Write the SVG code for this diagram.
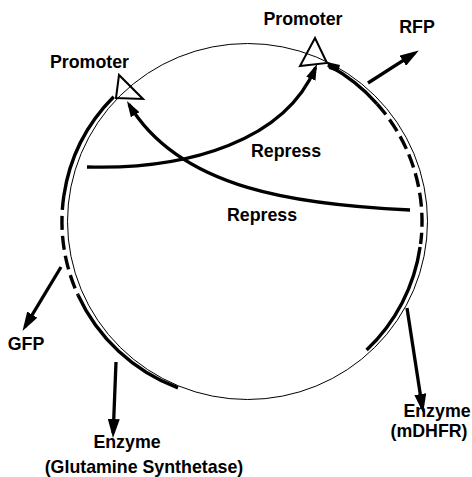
<svg xmlns="http://www.w3.org/2000/svg" width="472" height="477" viewBox="0 0 472 477">
<style>
.lbl{font-family:"Liberation Sans",Arial,Helvetica,sans-serif;font-weight:bold;font-size:17.8px;fill:#000;text-anchor:middle}
.thin{fill:none;stroke:#000;stroke-width:1}
.gene{fill:none;stroke:#000;stroke-width:3.4}
.dash{stroke-dasharray:14 6}
.prom{fill:none;stroke:#000;stroke-width:2;stroke-linejoin:miter}
.conn{fill:none;stroke:#000;stroke-width:3.3}
</style>
<defs>
<marker id="ah" markerUnits="userSpaceOnUse" markerWidth="19" markerHeight="12" refX="14" refY="6" orient="auto">
<path d="M0,0 L19,6 L0,12 z" fill="#000"/>
</marker>
<marker id="ahs" markerUnits="userSpaceOnUse" markerWidth="16" markerHeight="10" refX="12" refY="5" orient="auto">
<path d="M0,0 L16,5 L0,10 z" fill="#000"/>
</marker>
</defs>
<g id="plasmid">
<ellipse class="thin" cx="247.5" cy="221.5" rx="180" ry="178"/>
</g>
<g id="gene-left">
<path class="gene" d="M113.7,96.7 A180,178 0 0 0 63.8,196"/>
<path class="gene dash" d="M63.8,196 A180,178 0 0 0 78,295"/>
<path class="gene" d="M78,295 A180,178 0 0 0 178,387.9"/>
</g>
<g id="gene-right">
<path class="gene" d="M327.9,65 A180,178 0 0 1 377,103.8"/>
<path class="gene dash" d="M377,103.8 A180,178 0 0 1 420.6,244"/>
<path class="gene" d="M420.1,247 A180,178 0 0 1 366.6,350"/>
<polygon points="327,62 340,65 338,72 329,69" fill="#000"/>
</g>
<g id="promoter-left">
<polygon class="prom" points="119,75 116,98 143,99"/>
<text class="lbl" x="89.5" y="68">Promoter</text>
</g>
<g id="promoter-right">
<polygon class="prom" points="315,38 300,66 327,63"/>
<text class="lbl" x="303" y="25">Promoter</text>
</g>
<g id="connectors">
<path class="conn" marker-end="url(#ahs)" d="M87,167 C190,170 285,140 315.5,67.7"/>
<path class="conn" marker-end="url(#ahs)" d="M410,210 C300,205 180,190 129,104.4"/>
<line class="conn" marker-end="url(#ah)" x1="368" y1="83" x2="414.6" y2="53.2"/>
<line class="conn" marker-end="url(#ah)" x1="61" y1="267" x2="25.1" y2="326.6"/>
<line class="conn" marker-end="url(#ah)" x1="116" y1="362" x2="113.2" y2="433"/>
<line class="conn" marker-end="url(#ah)" x1="407" y1="308" x2="422.4" y2="408"/>
</g>
<g id="labels">
<text class="lbl" x="286" y="157">Repress</text>
<text class="lbl" x="262" y="221">Repress</text>
<text class="lbl" x="417" y="33">RFP</text>
<text class="lbl" x="26" y="350">GFP</text>
<text class="lbl" x="127" y="448">Enzyme</text>
<text class="lbl" x="144" y="473">(Glutamine Synthetase)</text>
<text class="lbl" x="437" y="417">Enzyme</text>
<text class="lbl" x="429" y="437">(mDHFR)</text>
</g>
</svg>
